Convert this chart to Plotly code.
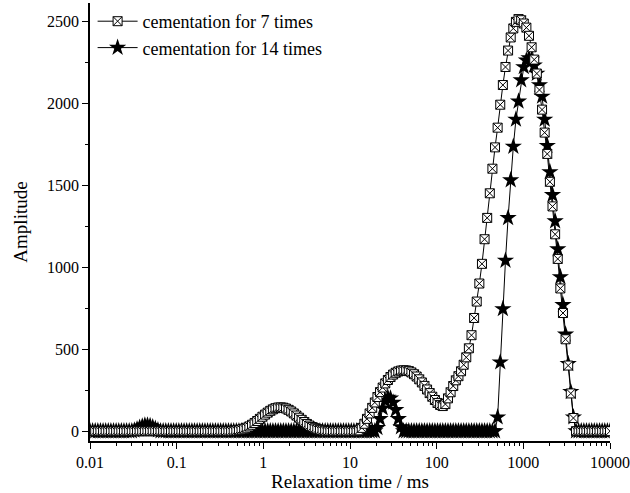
import numpy as np
import plotly.graph_objects as go

# relaxation time bins of the T2 inversion (log spaced, 0.01 - 10000 ms)
T2_START = -2
T2_END = 4
N_BINS = 200
t2 = np.logspace(T2_START, T2_END, N_BINS)

# amplitude segments: (first bin index, values)
seg_7_times = [
    (55, [2, 4, 6, 10, 15, 21, 29, 39, 50, 62, 75, 88, 101, 113, 124, 133,
          140, 144, 145, 143, 138, 130, 120, 108, 95, 82, 69, 56, 44, 34, 25,
          18, 12, 8, 5, 3]),
    (103, [5, 20, 45, 75, 108, 142, 175, 208, 238, 266, 291, 312, 330, 345,
           356, 364, 369, 371, 370, 366, 358, 347, 333, 316, 297, 276, 254,
           232, 210, 190, 172, 160, 153, 165, 200, 237, 275, 310, 335, 365,
           405, 450, 505, 585, 690, 790, 900, 1020, 1170, 1300, 1450, 1600,
           1730, 1850, 1990, 2110, 2220, 2320, 2400, 2455, 2495, 2512, 2505,
           2485, 2460, 2410, 2340, 2265, 2180, 2080, 1960, 1820, 1690, 1520,
           1370, 1200, 1050, 870, 720, 560, 400, 230, 80]),
]
seg_14_times = [
    (17, [5, 12, 22, 30, 35, 36, 33, 25, 15, 6]),
    (110, [20, 75, 140, 185, 205, 200, 175, 130, 75, 25]),
    (156, [85, 420, 745, 1040, 1300, 1530, 1735, 1900, 2010, 2140, 2220,
           2260, 2275, 2265, 2230, 2180, 2110, 2040, 1900, 1740, 1580, 1440,
           1280, 1110, 940, 770, 590, 410, 240, 85]),
]

x_ticks = [0.01, 0.1, 1, 10, 100, 1000, 10000]
x_labels = ["0.01", "0.1", "1", "10", "100", "1000", "10000"]
y_ticks = [0, 500, 1000, 1500, 2000, 2500]


def build(segments):
    amp = [0] * N_BINS
    for start, vals in segments:
        for k, v in enumerate(vals):
            amp[start + k] = v
    return amp


amp_7 = build(seg_7_times)
amp_14 = build(seg_14_times)

# minor ticks 2..9 inside every decade
x_minor = [d * m for d in x_ticks[:-1] for m in range(2, 10)]

font_name = "Liberation Serif"

fig = go.Figure()

fig.add_trace(go.Scatter(
    x=t2, y=amp_14, mode="lines+markers", name="cementation for 14 times",
    line=dict(color="black", width=1),
    marker=dict(symbol="star", size=13, color="black"),
    legendrank=2,
))
fig.add_trace(go.Scatter(
    x=t2, y=amp_7, mode="lines+markers", name="cementation for 7 times",
    line=dict(color="black", width=1),
    marker=dict(symbol="square-x", size=9, color="white",
                line=dict(color="black", width=1)),
    legendrank=1,
))

fig.update_xaxes(
    type="log", range=[-2, 4],
    tickvals=x_ticks, ticktext=x_labels,
    ticks="outside", ticklen=6, tickwidth=1.3, tickcolor="black",
    minor=dict(ticks="outside", ticklen=3, tickwidth=1, tickcolor="black",
               tickvals=x_minor, showgrid=False),
    showline=True, linecolor="black", linewidth=1.5,
    showgrid=False, zeroline=False,
    title=dict(text="Relaxation time / ms", font=dict(size=19), standoff=4),
    tickfont=dict(size=16),
    automargin=False,
)
fig.update_yaxes(
    range=[-60, 2610],
    tickvals=y_ticks,
    ticks="outside", ticklen=6, tickwidth=1.3, tickcolor="black",
    minor=dict(ticks="outside", ticklen=3, tickcolor="black", dtick=250,
               showgrid=False),
    showline=True, linecolor="black", linewidth=1.5,
    showgrid=False, zeroline=False,
    title=dict(text="Amplitude", font=dict(size=19), standoff=14),
    tickfont=dict(size=16),
    automargin=False,
)

fig.update_layout(
    width=630, height=493,
    margin=dict(l=90, r=20, t=3, b=52),
    paper_bgcolor="white", plot_bgcolor="white",
    font=dict(family=font_name, color="black", size=16),
    showlegend=True,
    legend=dict(x=0.005, y=1.0, xanchor="left", yanchor="top",
                bgcolor="rgba(0,0,0,0)", font=dict(size=18),
                itemwidth=40),
)

fig.write_html("out.html", config={"displayModeBar": False},
               post_script="document.body.style.margin='0';")
